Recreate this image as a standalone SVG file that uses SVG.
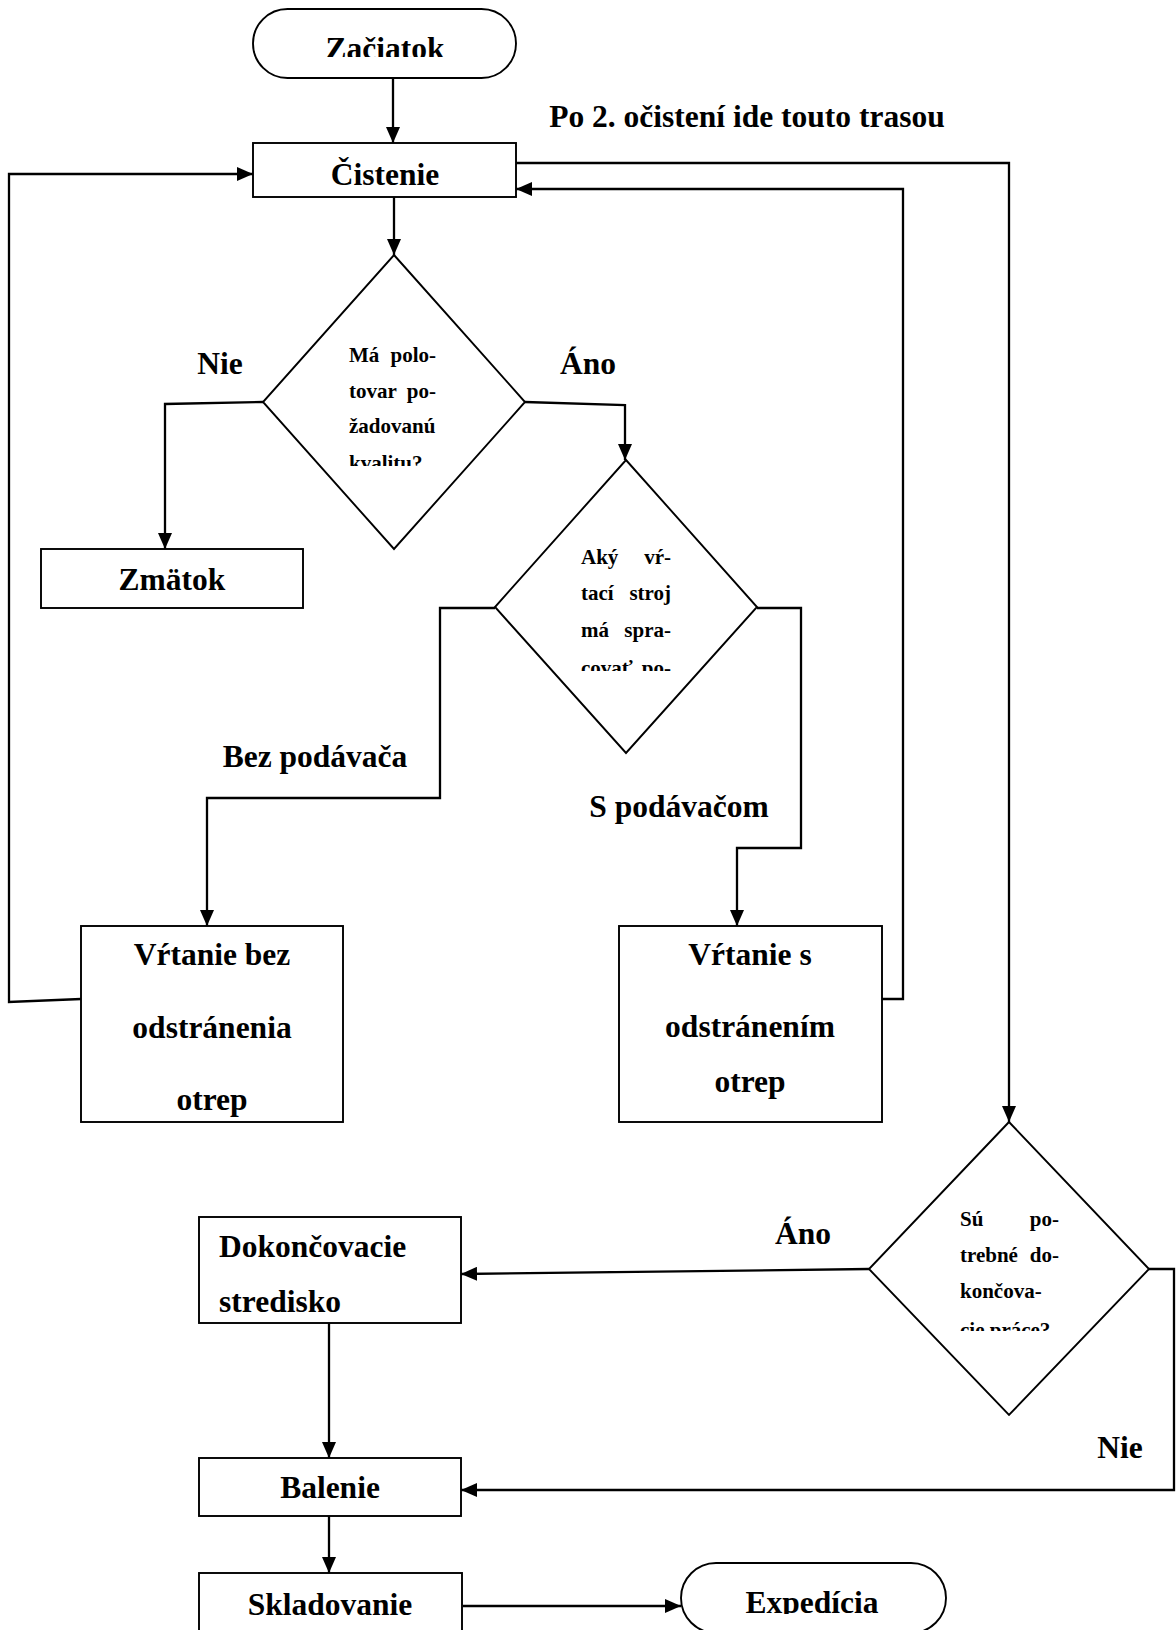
<svg xmlns="http://www.w3.org/2000/svg" width="1176" height="1630" viewBox="0 0 1176 1630">
<style>
.shape{fill:#fff;stroke:#000;stroke-width:1.9}
.conn{fill:none;stroke:#000;stroke-width:2.3}
text{font-family:"Liberation Serif","Times New Roman",serif;font-weight:bold;fill:#000}
.t{font-size:31.5px}
.c{text-anchor:middle}
.d{font-size:21px}
.e{text-anchor:end}
</style>
<defs>
<marker id="arr" markerUnits="userSpaceOnUse" markerWidth="16" markerHeight="14" refX="16" refY="7" orient="auto">
<path d="M0,0 L16,7 L0,14 z" fill="#000"/>
</marker>
<clipPath id="clipZ"><rect x="0" y="0" width="1176" height="57"/></clipPath>
<clipPath id="clipE"><rect x="0" y="0" width="1176" height="1614"/></clipPath>
<clipPath id="clipD1"><rect x="0" y="0" width="1176" height="466"/></clipPath>
<clipPath id="clipD2"><rect x="0" y="0" width="1176" height="671"/></clipPath>
<clipPath id="clipD3"><rect x="0" y="0" width="1176" height="1331"/></clipPath>
</defs>
<rect x="0" y="0" width="1176" height="1630" fill="#fff"/>

<g id="connectors">
<path class="conn" d="M393,78 V143" marker-end="url(#arr)"/>
<path class="conn" d="M394,197 V255" marker-end="url(#arr)"/>
<path class="conn" d="M263,402 L165,404 V549" marker-end="url(#arr)"/>
<path class="conn" d="M525,402 L625,405 V460" marker-end="url(#arr)"/>
<path class="conn" d="M495,608 H440 V798 H207 V926" marker-end="url(#arr)"/>
<path class="conn" d="M757,608 H801 V848 H737 V926" marker-end="url(#arr)"/>
<path class="conn" d="M81,999 L9,1002 V174 H253" marker-end="url(#arr)"/>
<path class="conn" d="M882,999 H903 V189 H516" marker-end="url(#arr)"/>
<path class="conn" d="M516,163 H1009 V1122" marker-end="url(#arr)"/>
<path class="conn" d="M869,1269 L461,1274" marker-end="url(#arr)"/>
<path class="conn" d="M1149,1269 H1174 V1490 H461" marker-end="url(#arr)"/>
<path class="conn" d="M329,1323 V1458" marker-end="url(#arr)"/>
<path class="conn" d="M329,1516 V1573" marker-end="url(#arr)"/>
<path class="conn" d="M463,1606 H681" marker-end="url(#arr)"/>
</g>

<g id="labels">
<text class="t c" x="220" y="374">Nie</text>
<text class="t c" x="588" y="374">Áno</text>
<text class="t c" x="315" y="767">Bez podávača</text>
<text class="t c" x="679" y="817">S podávačom</text>
<text class="t c" x="803" y="1244">Áno</text>
<text class="t c" x="1120" y="1458">Nie</text>
<text class="t c" x="747" y="127">Po 2. očistení ide touto trasou</text>
</g>

<g id="zaciatok">
<rect class="shape" x="253" y="9" width="263" height="69" rx="34.5"/>
<text class="t c" x="385" y="59" clip-path="url(#clipZ)">Začiatok</text>
</g>

<g id="cistenie">
<rect class="shape" x="253" y="143" width="263" height="54"/>
<text class="t c" x="385" y="185">Čistenie</text>
</g>

<g id="kvalita">
<polygon class="shape" points="394,255 525,402 394,549 263,402"/>
<g clip-path="url(#clipD1)">
<text class="d" x="349" y="362">Má</text><text class="d e" x="436" y="362">polo-</text>
<text class="d" x="349" y="397.5">tovar</text><text class="d e" x="436" y="397.5">po-</text>
<text class="d" x="349" y="433">žadovanú</text>
<text class="d" x="349" y="469.5">kvalitu?</text>
</g>
</g>

<g id="zmatok">
<rect class="shape" x="41" y="549" width="262" height="59"/>
<text class="t c" x="172" y="590">Zmätok</text>
</g>

<g id="stroj">
<polygon class="shape" points="626,460 757,607 626,753 495,607"/>
<g clip-path="url(#clipD2)">
<text class="d" x="581" y="564">Aký</text><text class="d e" x="671" y="564">vŕ-</text>
<text class="d" x="581" y="600">tací</text><text class="d e" x="671" y="600">stroj</text>
<text class="d" x="581" y="637">má</text><text class="d e" x="671" y="637">spra-</text>
<text class="d" x="581" y="675">covať</text><text class="d e" x="671" y="675">po-</text>
</g>
</g>

<g id="vrtanie-bez">
<rect class="shape" x="81" y="926" width="262" height="196"/>
<text class="t c" x="212" y="965">Vŕtanie bez</text>
<text class="t c" x="212" y="1038">odstránenia</text>
<text class="t c" x="212" y="1110">otrep</text>
</g>

<g id="vrtanie-s">
<rect class="shape" x="619" y="926" width="263" height="196"/>
<text class="t c" x="750" y="965">Vŕtanie s</text>
<text class="t c" x="750" y="1037">odstránením</text>
<text class="t c" x="750" y="1092">otrep</text>
</g>

<g id="dokoncovacie-prace">
<polygon class="shape" points="1009,1122 1149,1269 1009,1415 869,1269"/>
<g clip-path="url(#clipD3)">
<text class="d" x="960" y="1226">Sú</text><text class="d e" x="1059" y="1226">po-</text>
<text class="d" x="960" y="1262">trebné</text><text class="d e" x="1059" y="1262">do-</text>
<text class="d" x="960" y="1298">končova-</text>
<text class="d" x="960" y="1337">cie práce?</text>
</g>
</g>

<g id="dokoncovacie-stredisko">
<rect class="shape" x="199" y="1217" width="262" height="106"/>
<text class="t" x="219" y="1257">Dokončovacie</text>
<text class="t" x="219" y="1312">stredisko</text>
</g>

<g id="balenie">
<rect class="shape" x="199" y="1458" width="262" height="58"/>
<text class="t c" x="330" y="1498">Balenie</text>
</g>

<g id="skladovanie">
<rect class="shape" x="199" y="1573" width="263" height="70"/>
<text class="t c" x="330" y="1615">Skladovanie</text>
</g>

<g id="expedicia">
<rect class="shape" x="681" y="1563" width="265" height="70" rx="35"/>
<text class="t c" x="812" y="1613" clip-path="url(#clipE)">Expedícia</text>
</g>
</svg>
